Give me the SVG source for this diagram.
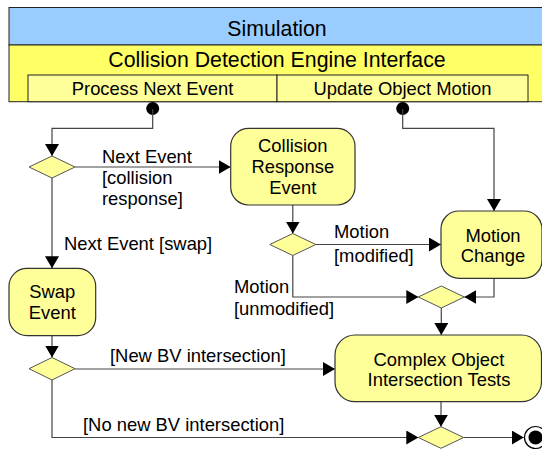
<svg xmlns="http://www.w3.org/2000/svg" width="542" height="450" viewBox="0 0 542 450">
<style>
text{font-family:"Liberation Sans",Arial,sans-serif;font-size:18.4px;fill:#000}
.c{text-anchor:middle}
.t{font-size:21.3px}
.node{fill:#ffff99;stroke:#333;stroke-width:1.2}
.dia{fill:#ffff99;stroke:#555;stroke-width:1}
.conn{fill:none;stroke:#444;stroke-width:1.2}
</style>
<defs>
<marker id="arr" markerUnits="userSpaceOnUse" markerWidth="12" markerHeight="14" refX="12" refY="7" orient="auto">
<path d="M0,0 L12,7 L0,14 Z" fill="#000"/>
</marker>
</defs>
<rect width="542" height="450" fill="#fff"/>
<g id="simulation">
<rect x="9" y="7.5" width="545" height="37.5" fill="#99ccff" stroke="#222" stroke-width="1"/>
<text class="c t" x="277" y="36">Simulation</text>
</g>
<g id="engine">
<rect x="9" y="45" width="545" height="56.7" fill="#ffff66" stroke="#222" stroke-width="1"/>
<text class="c t" x="277" y="66.5">Collision Detection Engine Interface</text>
</g>
<g id="process">
<rect x="28" y="75" width="249" height="26.7" fill="#ffff99" stroke="#222" stroke-width="1"/>
<text class="c" x="152.5" y="94.5">Process Next Event</text>
</g>
<g id="update">
<rect x="277" y="75" width="251" height="26.7" fill="#ffff99" stroke="#222" stroke-width="1"/>
<text class="c" x="402.5" y="94.5">Update Object Motion</text>
</g>
<g id="connectors">
<circle cx="152.7" cy="108.5" r="6.5" fill="#000"/>
<circle cx="402.7" cy="108.5" r="6.5" fill="#000"/>
<path class="conn" d="M152.7,109 V128.3 H52 V156" marker-end="url(#arr)"/>
<path class="conn" d="M75,167 H230.7" marker-end="url(#arr)"/>
<path class="conn" d="M52,178 V268.3" marker-end="url(#arr)"/>
<path class="conn" d="M292.8,205 V233.5" marker-end="url(#arr)"/>
<path class="conn" d="M315.8,244.5 H441" marker-end="url(#arr)"/>
<path class="conn" d="M292.8,255.5 V297 H418.3" marker-end="url(#arr)"/>
<path class="conn" d="M402.7,109 V128.3 H494 V211" marker-end="url(#arr)"/>
<path class="conn" d="M494,278.3 V297 H464.3" marker-end="url(#arr)"/>
<path class="conn" d="M441.3,308 V335" marker-end="url(#arr)"/>
<path class="conn" d="M441,401.7 V426.7" marker-end="url(#arr)"/>
<path class="conn" d="M464,437.5 H523.8" marker-end="url(#arr)"/>
<path class="conn" d="M52,335.7 V357.5" marker-end="url(#arr)"/>
<path class="conn" d="M75,369 H335" marker-end="url(#arr)"/>
<path class="conn" d="M52,380 V437.5 H418.3" marker-end="url(#arr)"/>
<text x="102" y="163">Next Event</text>
<text x="102" y="184">[collision</text>
<text x="102" y="205">response]</text>
<text x="64" y="250">Next Event [swap]</text>
<text x="334" y="238">Motion</text>
<text x="334" y="261.5">[modified]</text>
<text x="234" y="293">Motion</text>
<text x="234" y="315">[unmodified]</text>
<text x="110" y="362">[New BV intersection]</text>
<text x="83" y="431">[No new BV intersection]</text>
</g>
<g id="decision1"><polygon class="dia" points="29,167 52,156 75,167 52,178"/></g>
<g id="collisionResponse">
<rect class="node" x="230.7" y="128.3" width="124.3" height="76.7" rx="18" ry="18"/>
<text class="c" x="292.8" y="151.7">Collision</text>
<text class="c" x="292.8" y="173.3">Response</text>
<text class="c" x="292.8" y="194">Event</text>
</g>
<g id="decision2"><polygon class="dia" points="269.8,244.5 292.8,233.5 315.8,244.5 292.8,255.5"/></g>
<g id="motionChange">
<rect class="node" x="441" y="211" width="101" height="67.3" rx="18" ry="18"/>
<text class="c" x="493" y="241.7">Motion</text>
<text class="c" x="493" y="261.7">Change</text>
</g>
<g id="merge1"><polygon class="dia" points="418.3,297 441.3,286 464.3,297 441.3,308"/></g>
<g id="swapEvent">
<rect class="node" x="9" y="268.3" width="86.7" height="67.4" rx="18" ry="18"/>
<text class="c" x="52.3" y="298.3">Swap</text>
<text class="c" x="52.3" y="319">Event</text>
</g>
<g id="decision3"><polygon class="dia" points="29,368.7 52,357.5 75,368.7 52,380"/></g>
<g id="complexTests">
<rect class="node" x="335" y="335" width="206.5" height="66.7" rx="20" ry="20"/>
<text class="c" x="439" y="366">Complex Object</text>
<text class="c" x="439" y="386">Intersection Tests</text>
</g>
<g id="merge2"><polygon class="dia" points="418.3,437.5 441,426.7 463.7,437.5 441,448.3"/></g>
<g id="final">
<circle cx="535.5" cy="437.5" r="11" fill="#fff" stroke="#000" stroke-width="1.2"/>
<circle cx="535.5" cy="437.5" r="7" fill="#000"/>
</g>
</svg>
